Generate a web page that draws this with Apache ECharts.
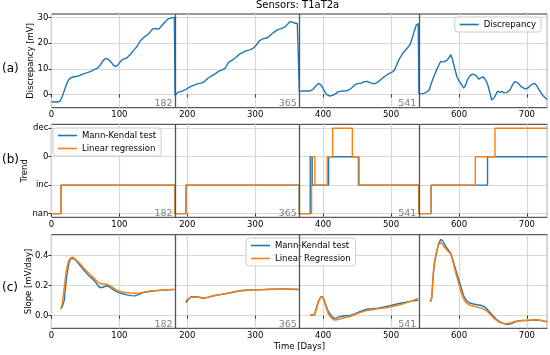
<!DOCTYPE html>
<html><head><meta charset="utf-8">
<script src="https://cdn.jsdelivr.net/npm/echarts@6/dist/echarts.min.js"></script>
<style>html,body{margin:0;padding:0;background:#fff}#c{width:550px;height:355px}</style>
</head><body><div id="c"></div>
<script>
const boundaries = [182, 365, 541];
const discTicks = [0, 10, 20, 30];
const trendLevels = ['nan', 'inc', '0', 'dec'];
const slopeTicks = [0, 0.2, 0.4];

const discrepancy = [
[0,-2.9],[5,-3.0],[10,-2.9],[13,-2.5],[16,-0.8],[19,1.5],[22,3.8],[25,5.5],[28,6.4],[33,6.9],[38,7.1],[43,7.5],[48,8.1],[53,8.5],[58,9.0],[63,9.7],[68,10.3],[72,11.5],[76,13.2],[80,14.1],[84,13.6],[88,12.6],[92,11.2],[95,10.9],[98,11.5],[102,13.0],[106,13.8],[111,14.2],[116,15.6],[121,17.2],[126,18.7],[131,21.0],[136,22.3],[141,23.2],[145,24.2],[149,25.6],[154,25.7],[158,25.5],[163,27.0],[168,28.5],[172,29.5],[177,29.9],[181,30.1],
[182,-0.4],[186,0.8],[192,1.3],[198,2.0],[204,2.9],[210,3.6],[216,4.2],[222,4.5],[226,5.2],[231,6.4],[236,7.2],[241,8.0],[246,9.0],[252,9.7],[256,10.3],[261,12.6],[266,13.4],[271,14.3],[276,15.5],[281,16.3],[286,17.0],[292,17.4],[297,18.0],[302,19.4],[306,20.9],[311,21.7],[318,22.1],[323,23.3],[328,24.3],[333,25.3],[339,25.8],[344,26.4],[348,27.5],[351,28.4],[354,28.3],[357,27.9],[362,27.7],[364,27.7],
[365,1.0],[368,1.3],[374,1.3],[380,1.3],[385,2.0],[389,3.2],[393,4.3],[397,3.6],[401,1.8],[405,0.0],[410,-0.7],[414,-0.4],[418,0.2],[422,1.0],[427,1.3],[432,1.3],[438,1.7],[443,2.8],[447,3.8],[451,4.2],[456,4.4],[461,5.0],[465,5.1],[470,4.5],[475,4.1],[480,4.7],[485,5.8],[490,6.9],[496,8.0],[502,8.8],[505,9.5],[509,12.0],[513,14.2],[518,16.4],[523,17.8],[528,19.5],[531,21.8],[534,24.5],[537,27.0],[540,27.7],
[541,0.3],[544,0.2],[548,0.4],[552,0.8],[556,1.7],[561,5.6],[566,8.9],[570,11.3],[573,12.9],[578,12.7],[583,13.5],[588,15.5],[590,14.0],[593,10.9],[597,6.8],[600,5.3],[603,4.2],[607,2.4],[610,3.8],[612,5.5],[616,7.2],[620,7.9],[625,7.4],[629,6.0],[633,6.6],[636,6.8],[639,5.7],[642,4.0],[645,1.2],[648,-2.2],[652,-1.2],[655,0.3],[657,1.3],[660,0.8],[663,1.2],[666,0.6],[670,0.7],[675,1.7],[679,3.8],[682,5.0],[686,4.6],[689,3.8],[692,2.9],[698,2.1],[702,2.6],[706,3.7],[711,4.3],[714,3.6],[717,2.1],[720,1.0],[723,-0.3],[727,-1.3],[730,-2.0]
];

// trend level index: 0=nan, 1=inc, 2='0', 3=dec ; value holds until next change day
const trendMK = [[0,0],[14,1],[182,0],[198,1],[365,0],[381,2],[384,1],[408,2],[452,1],[541,0],[559,1],[642,2],[730,2]];
const trendLR = [[0,0],[14,1],[182,0],[198,1],[365,0],[383,2],[388,1],[406,2],[414,3],[443,2],[453,1],[541,0],[559,1],[624,2],[653,3],[730,3]];

const slopeMK = [
[14,0.045],[16,0.06],[19,0.105],[21,0.2],[23,0.28],[26,0.355],[29,0.383],[31,0.389],[34,0.377],[39,0.352],[44,0.325],[49,0.297],[54,0.272],[59,0.251],[64,0.229],[68,0.205],[71,0.188],[75,0.188],[79,0.196],[82,0.198],[86,0.19],[90,0.177],[95,0.162],[100,0.152],[106,0.145],[112,0.137],[118,0.134],[123,0.132],[128,0.14],[134,0.152],[140,0.158],[147,0.163],[155,0.167],[163,0.17],[172,0.172],[181,0.174],
[190,null],
[198,0.088],[201,0.105],[205,0.125],[212,0.126],[218,0.123],[224,0.116],[230,0.122],[240,0.135],[250,0.142],[260,0.15],[270,0.16],[280,0.168],[290,0.171],[300,0.172],[310,0.174],[320,0.176],[330,0.177],[340,0.178],[350,0.177],[358,0.176],[364,0.175],
[373,null],
[381,0.005],[387,0.005],[390,0.05],[393,0.095],[396,0.123],[399,0.128],[401,0.115],[404,0.07],[408,0.025],[412,0.0],[416,-0.018],[420,-0.015],[426,-0.005],[432,0.0],[440,0.002],[448,0.015],[456,0.03],[464,0.043],[472,0.046],[480,0.05],[490,0.058],[500,0.068],[510,0.08],[520,0.088],[530,0.097],[540,0.103],
[550,null],
[558,0.093],[560,0.12],[562,0.26],[564,0.35],[567,0.42],[570,0.48],[573,0.509],[576,0.498],[580,0.465],[584,0.44],[588,0.415],[591,0.37],[595,0.31],[599,0.25],[603,0.19],[607,0.13],[611,0.1],[615,0.086],[620,0.08],[626,0.073],[632,0.07],[638,0.058],[642,0.04],[647,0.015],[652,-0.01],[658,-0.035],[664,-0.05],[670,-0.057],[676,-0.055],[682,-0.042],[688,-0.036],[695,-0.033],[702,-0.033],[710,-0.028],[718,-0.03],[725,-0.036],[730,-0.04]
];
const slopeLR = [
[14,0.045],[16,0.08],[18,0.15],[20,0.23],[22,0.3],[25,0.36],[28,0.383],[31,0.39],[34,0.382],[39,0.36],[44,0.337],[49,0.31],[54,0.288],[59,0.266],[64,0.244],[68,0.224],[72,0.214],[77,0.211],[82,0.208],[86,0.2],[91,0.185],[96,0.17],[101,0.162],[107,0.156],[114,0.152],[122,0.149],[130,0.152],[138,0.158],[146,0.164],[155,0.168],[165,0.171],[175,0.174],[181,0.176],
[190,null],
[198,0.1],[201,0.11],[205,0.122],[212,0.124],[218,0.122],[224,0.118],[230,0.123],[240,0.133],[250,0.141],[260,0.15],[270,0.159],[280,0.166],[290,0.17],[300,0.171],[310,0.173],[320,0.175],[330,0.176],[340,0.177],[350,0.176],[358,0.175],[364,0.174],
[373,null],
[381,0.005],[387,0.003],[390,0.04],[393,0.09],[396,0.12],[399,0.127],[401,0.112],[404,0.06],[408,0.01],[412,-0.015],[416,-0.028],[420,-0.027],[426,-0.02],[432,-0.012],[440,-0.005],[448,0.01],[456,0.024],[464,0.035],[472,0.04],[480,0.046],[490,0.052],[500,0.06],[510,0.07],[520,0.082],[530,0.097],[540,0.116],
[550,null],
[558,0.093],[560,0.13],[562,0.28],[564,0.36],[567,0.43],[570,0.475],[573,0.488],[576,0.475],[580,0.45],[584,0.43],[588,0.41],[591,0.36],[595,0.29],[599,0.225],[603,0.16],[607,0.11],[611,0.085],[615,0.072],[620,0.065],[626,0.058],[632,0.052],[638,0.04],[642,0.027],[647,0.005],[652,-0.02],[658,-0.04],[664,-0.05],[670,-0.052],[676,-0.048],[682,-0.038],[688,-0.033],[695,-0.031],[702,-0.03],[710,-0.026],[718,-0.028],[725,-0.035],[730,-0.04]
];

const FONT = 'DejaVu Sans';
const FS = 8.5;
const BLUE = '#1f77b4', ORANGE = '#ff7f0e';
const yRanges = [[-5.2, 31.4], [-0.13, 3.14], [-0.084, 0.54]];

function sepLines(gi) {
  return {
    markLine: {
      silent: true, symbol: ['none', 'none'], animation: false,
      lineStyle: {color: '#555', width: 1.3, type: 'solid'},
      label: {show: false},
      data: boundaries.map(b => ({xAxis: b}))
    },
    markPoint: {
      silent: true, animation: false, symbol: 'circle', symbolSize: 0,
      data: boundaries.map(b => ({name: String(b), coord: [b, yRanges[gi][0]]})),
      label: {show: true, position: 'inside', formatter: p => p.name, align: 'right', verticalAlign: 'bottom',
        offset: [-2.5, 1], color: '#808080', fontSize: 9.5, fontFamily: FONT}
    }
  };
}

function xAxis(gi, withName) {
  return {
    type: 'value', gridIndex: gi, min: 0, max: 730, interval: 100,
    axisLine: {show: false},
    axisTick: {show: true, length: 3, lineStyle: {color: '#333'}},
    axisLabel: {fontSize: FS, fontFamily: FONT, color: '#000', margin: 3, showMaxLabel: false},
    splitLine: {show: true, lineStyle: {color: '#d8d8d8', width: 1.2}},
    name: withName ? 'Time [Days]' : '', nameLocation: 'middle', nameGap: 14, nameMoveOverlap: false,
    nameTextStyle: {fontSize: FS, fontFamily: FONT, color: '#000'}
  };
}

function yAxis(gi, name, gap, ticks, fmt) {
  return {
    type: 'value', gridIndex: gi, min: yRanges[gi][0], max: yRanges[gi][1],
    axisLine: {show: false},
    axisTick: {show: true, length: 3, lineStyle: {color: '#333'}, customValues: ticks},
    axisLabel: {fontSize: FS, fontFamily: FONT, color: '#000', margin: 3, customValues: ticks, formatter: fmt},
    splitLine: {show: true, lineStyle: {color: '#d8d8d8', width: 1.2}},
    name: name, nameLocation: 'middle', nameGap: gap, nameMoveOverlap: false,
    nameTextStyle: {fontSize: FS, fontFamily: FONT, color: '#000'}
  };
}

const legendCommon = {
  icon: 'rect', itemWidth: 19, itemHeight: 1.6, itemGap: 4,
  backgroundColor: 'rgba(255,255,255,0.85)', borderColor: '#cccccc', borderWidth: 1, borderRadius: 3,
  padding: [3, 5, 3, 5], orient: 'vertical',
  textStyle: {fontSize: FS, fontFamily: FONT, color: '#000'}
};

const chart = echarts.init(document.getElementById('c'), null, {renderer: 'canvas'});
chart.setOption({
  animation: false,
  backgroundColor: '#fff',
  title: {text: 'Sensors: T1aT2a', left: 256, top: 0, padding: 0,
    textStyle: {fontSize: 10, fontWeight: 'normal', fontFamily: FONT, color: '#000'}},
  grid: [
    {left: 51.4, right: 2.7, top: 14, height: 93.7, show: true, borderColor: '#333', borderWidth: 1, backgroundColor: 'transparent'},
    {left: 51.4, right: 2.7, top: 124.3, height: 93, show: true, borderColor: '#333', borderWidth: 1, backgroundColor: 'transparent'},
    {left: 51.4, right: 2.7, top: 234.7, height: 93.6, show: true, borderColor: '#333', borderWidth: 1, backgroundColor: 'transparent'}
  ],
  xAxis: [xAxis(0, false), xAxis(1, false), xAxis(2, true)],
  yAxis: [
    yAxis(0, 'Discrepancy [mV]', 16, discTicks, v => String(v)),
    yAxis(1, 'Trend', 22, [0, 1, 2, 3], v => trendLevels[Math.round(v)]),
    yAxis(2, 'Slope [mV/day]', 18.5, slopeTicks, v => v.toFixed(1))
  ],
  legend: [
    Object.assign({}, legendCommon, {data: ['Discrepancy'], right: 9, top: 17}),
    Object.assign({}, legendCommon, {data: ['Mann-Kendal test', 'Linear regression'], left: 53, top: 128}),
    Object.assign({}, legendCommon, {data: ['Mann-Kendal test', 'Linear Regression'], left: 246, top: 238})
  ],
  graphic: [
    {type: 'text', left: 2, top: 63, style: {text: '(a)', fontSize: 12, fontFamily: FONT, fill: '#000'}},
    {type: 'text', left: 2, top: 154, style: {text: '(b)', fontSize: 12, fontFamily: FONT, fill: '#000'}},
    {type: 'text', left: 2, top: 282, style: {text: '(c)', fontSize: 12, fontFamily: FONT, fill: '#000'}}
  ],
  series: [
    Object.assign({name: 'Discrepancy', type: 'line', xAxisIndex: 0, yAxisIndex: 0, data: discrepancy,
      symbol: 'none', smooth: false, color: BLUE, lineStyle: {width: 1.4, color: BLUE}}, sepLines(0)),
    Object.assign({name: 'Mann-Kendal test', type: 'line', xAxisIndex: 1, yAxisIndex: 1, data: trendMK, step: 'end',
      symbol: 'none', color: BLUE, lineStyle: {width: 1.4, color: BLUE}}, sepLines(1)),
    {name: 'Linear regression', type: 'line', xAxisIndex: 1, yAxisIndex: 1, data: trendLR, step: 'end',
      symbol: 'none', color: ORANGE, lineStyle: {width: 1.4, color: ORANGE}},
    Object.assign({name: 'Mann-Kendal test', type: 'line', xAxisIndex: 2, yAxisIndex: 2, data: slopeMK,
      symbol: 'none', color: BLUE, lineStyle: {width: 1.4, color: BLUE}}, sepLines(2)),
    {name: 'Linear Regression', type: 'line', xAxisIndex: 2, yAxisIndex: 2, data: slopeLR,
      symbol: 'none', color: ORANGE, lineStyle: {width: 1.5, color: ORANGE}}
  ]
});
</script></body></html>
